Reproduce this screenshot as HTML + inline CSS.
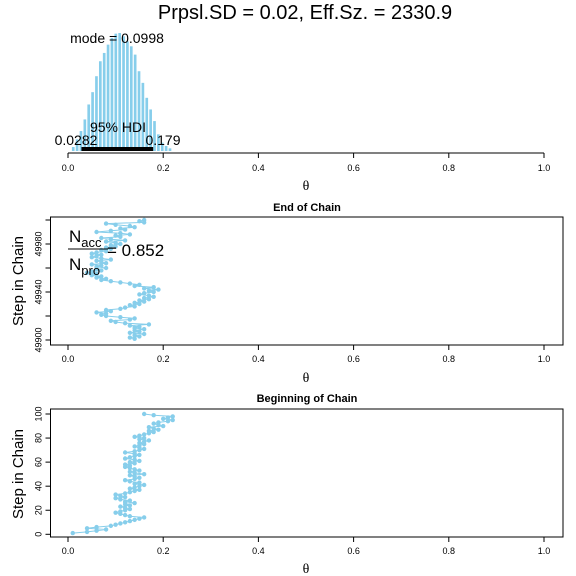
<!DOCTYPE html>
<html><head><meta charset="utf-8"><style>
html,body{margin:0;padding:0;background:#fff}
svg{display:block;font-family:"Liberation Sans",sans-serif}
</style></head><body>
<svg id="c" width="576" height="576" viewBox="0 0 576 576" xmlns="http://www.w3.org/2000/svg">
<g id="labels">
<text x="305" y="19" font-size="20" text-anchor="middle">Prpsl.SD = 0.02, Eff.Sz. = 2330.9</text>
<text x="117" y="43" font-size="14" text-anchor="middle">mode = 0.0998</text>
<text x="118" y="132" font-size="14" text-anchor="middle">95% HDI</text>
<text x="76" y="145" font-size="14" text-anchor="middle">0.0282</text>
<text x="163" y="145" font-size="14" text-anchor="middle">0.179</text>
<text x="307" y="211" font-size="11" font-weight="bold" text-anchor="middle">End of Chain</text>
<text x="307" y="402" font-size="11" font-weight="bold" text-anchor="middle">Beginning of Chain</text>
<text x="306" y="190" font-size="14" font-family="Liberation Serif,serif" text-anchor="middle">θ</text>
<text x="306" y="382" font-size="14" font-family="Liberation Serif,serif" text-anchor="middle">θ</text>
<text x="306" y="573" font-size="14" font-family="Liberation Serif,serif" text-anchor="middle">θ</text>
<text transform="translate(23,281) rotate(-90)" font-size="15" text-anchor="middle">Step in Chain</text>
<text transform="translate(23,474) rotate(-90)" font-size="15" text-anchor="middle">Step in Chain</text>
<g font-size="17">
<text x="69" y="242">N<tspan font-size="13" dy="5">acc</tspan></text>
<line x1="68" y1="249" x2="108" y2="249" stroke="#000" stroke-width="1"/>
<text x="69" y="270">N<tspan font-size="13" dy="5">pro</tspan></text>
<text x="107" y="256">= 0.852</text>
</g>
</g>
</svg>
<script>
const histCenters0 = 0.011, histStep = 0.00813;
const histCounts = [12,35,60,95,140,177,225,270,295,320,340,353,355,345,330,315,290,240,205,160,125,90,50,25,15,8];
const hdiLow = 0.0282, hdiHigh = 0.179;
const xTicks = [0,0.2,0.4,0.6,0.8,1.0];
const xTickLabels = ["0.0","0.2","0.4","0.6","0.8","1.0"];
const endTheta = [0.14,0.13,0.15,0.14,0.16,0.13,0.15,0.14,0.16,0.14,
0.15,0.13,0.17,0.12,0.10,0.09,0.13,0.14,0.11,0.08,
0.07,0.08,0.06,0.09,0.08,0.11,0.12,0.14,0.13,0.15,
0.14,0.16,0.15,0.17,0.16,0.18,0.17,0.15,0.16,0.18,
0.17,0.19,0.16,0.18,0.14,0.15,0.13,0.11,0.09,0.07,
0.08,0.06,0.07,0.05,0.06,0.04,0.05,0.07,0.06,0.08,
0.06,0.07,0.05,0.08,0.07,0.06,0.09,0.07,0.05,0.06,
0.07,0.05,0.06,0.08,0.07,0.09,0.08,0.10,0.09,0.11,
0.10,0.08,0.12,0.09,0.07,0.11,0.10,0.13,0.11,0.06,
0.09,0.12,0.11,0.14,0.13,0.10,0.08,0.16,0.15,0.16];
const endStart = 49901;
const endYTicks = [49900,49920,49940,49960,49980,50000];
const endYLabels = ["49900","","49940","","49980",""];
const begTheta = [0.01,0.04,0.06,0.08,0.04,0.06,0.09,0.10,0.11,0.12,
0.13,0.14,0.15,0.16,0.13,0.12,0.11,0.10,0.11,0.12,
0.13,0.12,0.11,0.13,0.12,0.14,0.12,0.13,0.11,0.10,
0.12,0.11,0.10,0.12,0.13,0.14,0.15,0.13,0.14,0.15,
0.16,0.14,0.15,0.13,0.12,0.14,0.15,0.14,0.13,0.16,
0.14,0.13,0.15,0.14,0.13,0.12,0.13,0.12,0.14,0.13,
0.15,0.14,0.12,0.13,0.14,0.15,0.14,0.12,0.14,0.15,
0.16,0.15,0.14,0.15,0.16,0.15,0.16,0.17,0.15,0.16,
0.14,0.15,0.16,0.17,0.18,0.17,0.19,0.18,0.17,0.20,
0.19,0.18,0.19,0.21,0.22,0.20,0.21,0.22,0.18,0.16];
const begYTicks = [0,20,40,60,80,100];
const begYLabels = ["0","20","40","60","80","100"];

const svg = document.getElementById('c');
const labels = document.getElementById('labels');
const NS = 'http://www.w3.org/2000/svg';
function mk(tag, attrs, parent){const e=document.createElementNS(NS,tag);for(const k in attrs)e.setAttribute(k,attrs[k]);(parent||svg).appendChild(e);return e;}
const xs = v => 68 + 476*v;
const C = '#87CEEB';

const hg = mk('g',{});


const maxC = Math.max(...histCounts);
const hBase = 151, hMax = 118;
histCounts.forEach((c,i)=>{
  const cx = histCenters0 + i*histStep;
  const h = c/maxC*hMax;
  const r = mk('rect',{x:xs(cx-histStep/2)+0.6,y:hBase-h,width:xs(histStep)-68-1.2,height:h,fill:C},hg);
  
  
});
const hdi = mk('line',{x1:xs(hdiLow),x2:xs(hdiHigh),y1:149,y2:149,stroke:'#000','stroke-width':4});



function xAxis(y, name){
  const g = mk('g',{});
  
  
  mk('line',{x1:xs(0),x2:xs(1),y1:y,y2:y,stroke:'#000'},g);
  xTicks.forEach((t,i)=>{
    mk('line',{x1:xs(t),x2:xs(t),y1:y,y2:y+5,stroke:'#000'},g);
    const tx = mk('text',{x:xs(t),y:y+18,'font-size':9,'text-anchor':'middle'},g);
    tx.textContent = xTickLabels[i];
  });
}
xAxis(153,'top-x-axis');

function trace(theta, stepStart, yTicks, yLabels, ys, box, name){
  const g = mk('g',{});
  
  
  mk('rect',{x:box[0],y:box[1],width:box[2]-box[0],height:box[3]-box[1],fill:'none',stroke:'#000'},g);
  yTicks.forEach((t,i)=>{
    const y = ys(t);
    mk('line',{x1:box[0],x2:box[0]-5,y1:y,y2:y,stroke:'#000'},g);
    if(yLabels[i]){
      const tx = mk('text',{transform:`translate(${box[0]-9},${y}) rotate(-90)`,'font-size':9,'text-anchor':'middle'},g);
      tx.textContent = yLabels[i];
    }
  });
  xTicks.forEach((t,i)=>{
    mk('line',{x1:xs(t),x2:xs(t),y1:box[3],y2:box[3]+5,stroke:'#000'},g);
    const tx = mk('text',{x:xs(t),y:box[3]+17,'font-size':9,'text-anchor':'middle'},g);
    tx.textContent = xTickLabels[i];
  });
  const pts = theta.map((v,i)=>xs(v).toFixed(1)+','+ys(stepStart+i).toFixed(1)).join(' ');
  const pl = mk('polyline',{points:pts,fill:'none',stroke:C,'stroke-width':1},g);
  
  
  theta.forEach((v,i)=>{
    const p = mk('circle',{cx:xs(v),cy:ys(stepStart+i),r:2.2,fill:C},g);
    
    
  });
}
trace(endTheta, endStart, endYTicks, endYLabels, s=>340-(s-49900)*1.2, [50.5,217,563,345], 'end-of-chain-panel');
trace(begTheta, 1, begYTicks, begYLabels, s=>534.3-s*1.203, [50.5,409,563,537], 'beginning-of-chain-panel');
svg.appendChild(labels);
</script>
</body></html>
